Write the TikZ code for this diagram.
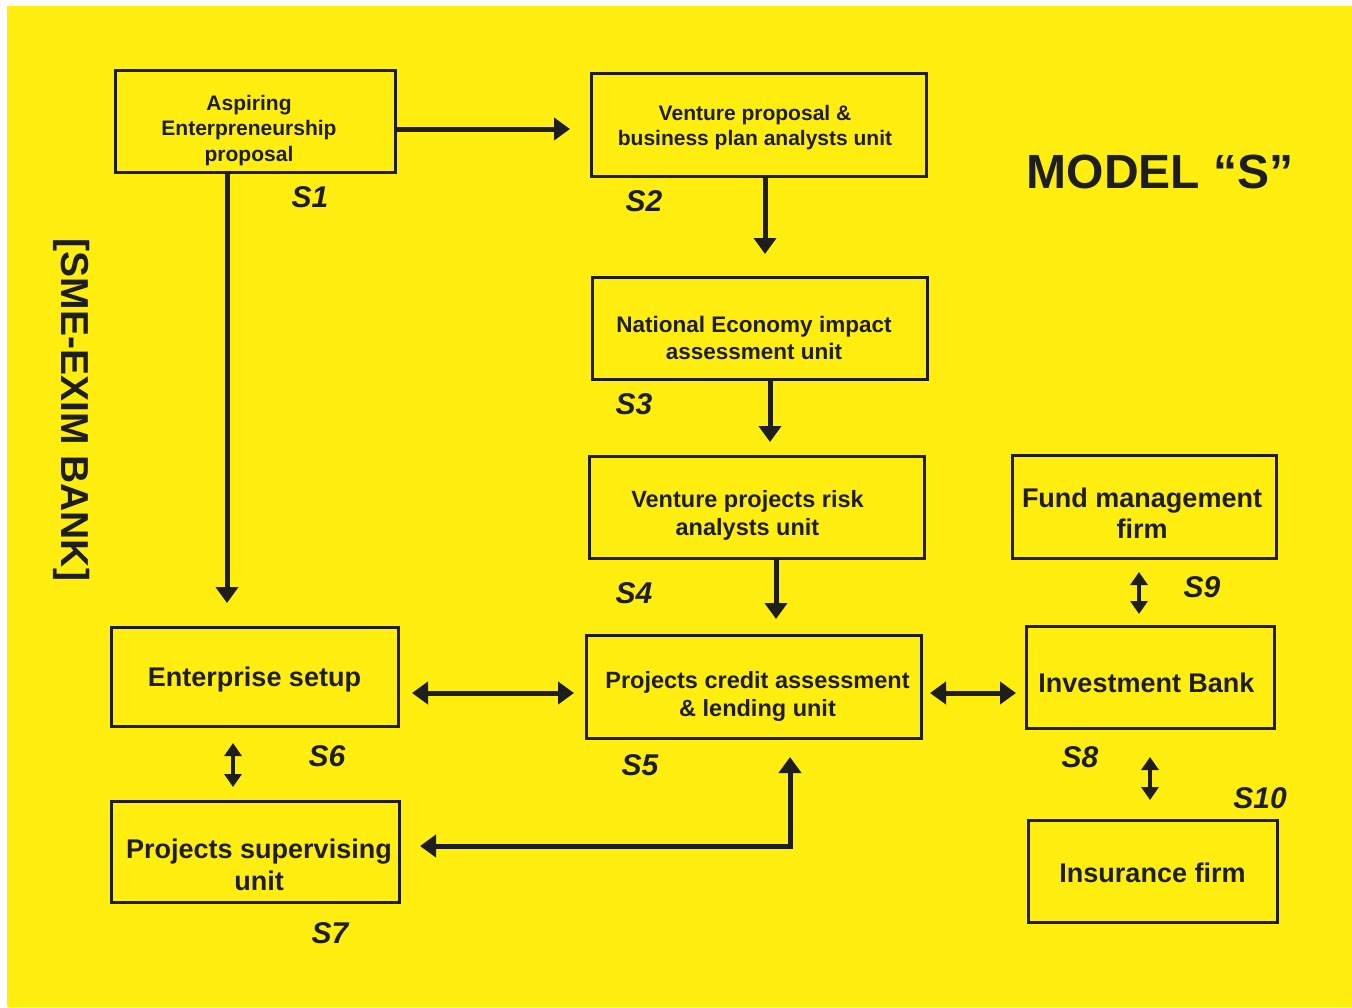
\documentclass[tikz,border=0pt]{standalone}
\usepackage{fontspec}
\setmainfont{Liberation Sans}
\usetikzlibrary{arrows.meta}
\definecolor{modelyellow}{HTML}{FFEE10}
\definecolor{inkblack}{HTML}{1E1E1E}
\newcommand{\fsz}[2]{\fontsize{#1}{#2}\selectfont}

\begin{document}
\begin{tikzpicture}[x=1pt,y=-1pt,
	unitbox/.style={draw=inkblack,line width=3pt,inner sep=0pt},
	unittext/.style={align=center,inner sep=0pt,text=inkblack},
	steplabel/.style={text=inkblack,font=\bfseries\itshape\fsz{30}{30}},
	flow/.style={draw=inkblack,line width=5pt,-{Triangle[width=22pt,length=16pt]}},
	both/.style={draw=inkblack,line width=5pt,{Triangle[width=22pt,length=16pt]}-{Triangle[width=22pt,length=16pt]}},
	link/.style={draw=inkblack,line width=3.5pt,{Triangle[width=17pt,length=13pt]}-{Triangle[width=17pt,length=13pt]}}]

		% Page and background
		\fill[white] (0,0) rectangle (1352,1007);
		\fill[modelyellow] (7,6) rectangle (1352,1007);

		% Unit boxes
		\node[unitbox,minimum width=280pt,minimum height=102pt] (s1) at (255.5,121.5) {};
		\node[unitbox,minimum width=335pt,minimum height=103pt] (s2) at (759,125) {};
		\node[unitbox,minimum width=335pt,minimum height=102pt] (s3) at (760,328.5) {};
		\node[unitbox,minimum width=335pt,minimum height=102pt] (s4) at (757,507.5) {};
		\node[unitbox,minimum width=335pt,minimum height=103pt] (s5) at (754,687) {};
		\node[unitbox,minimum width=287pt,minimum height=99pt] (s6) at (255,677) {};
		\node[unitbox,minimum width=288pt,minimum height=101pt] (s7) at (255.5,852) {};
		\node[unitbox,minimum width=248pt,minimum height=102pt] (s8) at (1150.5,677.5) {};
		\node[unitbox,minimum width=264pt,minimum height=103pt] (s9) at (1144.5,507) {};
		\node[unitbox,minimum width=249pt,minimum height=102pt] (s10) at (1153,871.5) {};

		% Unit texts
		\node[unittext,font=\bfseries\fsz{21}{25.5}] (t1) at (249,130.5) {Aspiring\\Enterpreneurship\\proposal};
		\node[unittext,font=\bfseries\fsz{21}{25.5}] (t2) at (755,127.5) {Venture proposal \&\\business plan analysts unit};
		\node[unittext,font=\bfseries\fsz{22.5}{26.5}] (t3) at (754,338) {National Economy impact\\assessment unit};
		\node[unittext,font=\bfseries\fsz{23.5}{28}] (t4) at (747.5,515.5) {Venture projects risk\\analysts unit};
		\node[unittext,font=\bfseries\fsz{23.5}{28}] (t5) at (757.5,696) {Projects credit assessment\\\& lending unit};
		\node[unittext,font=\bfseries\fsz{27}{32}] (t6) at (254.5,680) {Enterprise setup};
		\node[unittext,font=\bfseries\fsz{27}{32}] (t7) at (259,865) {Projects supervising\\unit};
		\node[unittext,font=\bfseries\fsz{27}{32}] (t8) at (1146.5,682.5) {Investment Bank};
		\node[unittext,font=\bfseries\fsz{27}{31}] (t9) at (1142,513.5) {Fund management\\firm};
		\node[unittext,font=\bfseries\fsz{27}{32}] (t10) at (1152.5,872.5) {Insurance firm};

		% Step labels
		\node[steplabel] (l1) at (310,197) {S1};
		\node[steplabel] (l2) at (644,201) {S2};
		\node[steplabel] (l3) at (634,404) {S3};
		\node[steplabel] (l4) at (634,593) {S4};
		\node[steplabel] (l5) at (640,765) {S5};
		\node[steplabel] (l6) at (327,756) {S6};
		\node[steplabel] (l7) at (330,933) {S7};
		\node[steplabel] (l8) at (1080,757) {S8};
		\node[steplabel] (l9) at (1202,587) {S9};
		\node[steplabel] (l10) at (1260,798) {S10};

		% Titles
		\node[text=inkblack,font=\bfseries\fsz{48}{48}] (model) at (1160,172) {MODEL “S”};
		\node[text=inkblack,font=\bfseries\fsz{39}{39},rotate=-90] (bank) at (72,410) {[SME-EXIM BANK]};

		% Rows and columns of the connectors
		\coordinate (r12) at (0,129);
		\coordinate (r65) at (0,693);
		\coordinate (r75) at (0,846);
		\coordinate (c16) at (227,0);
		\coordinate (c23) at (765,0);
		\coordinate (c34) at (770,0);
		\coordinate (c45) at (776,0);
		\coordinate (c67) at (233,0);
		\coordinate (c75) at (790,0);
		\coordinate (c98) at (1139,0);
		\coordinate (c810) at (1150,0);

		% Connectors
		\draw[flow,shorten >=20pt] (s1.east |- r12) -- (s2.west |- r12);
		\draw[flow,shorten >=23pt] (s1.south -| c16) -- (s6.north -| c16);
		\draw[flow,shorten >=22pt] (s2.south -| c23) -- (s3.north -| c23);
		\draw[flow,shorten >=13pt] (s3.south -| c34) -- (s4.north -| c34);
		\draw[flow,shorten >=15pt] (s4.south -| c45) -- (s5.north -| c45);
		\draw[both,shorten <=12pt,shorten >=11pt] (s6.east |- r65) -- (s5.west |- r65);
		\draw[both,shorten <=7pt,shorten >=9pt] (s5.east |- r65) -- (s8.west |- r65);
		\draw[both,shorten <=19pt,shorten >=17pt] (s7.east |- r75) -- (c75 |- r75) -- (s5.south -| c75);
		\draw[link,shorten <=15pt,shorten >=13pt] (s6.south -| c67) -- (s7.north -| c67);
		\draw[link,shorten <=12pt,shorten >=11pt] (s9.south -| c98) -- (s8.north -| c98);
		\draw[link,shorten <=27pt,shorten >=19pt] (s8.south -| c810) -- (s10.north -| c810);
\end{tikzpicture}
\end{document}
